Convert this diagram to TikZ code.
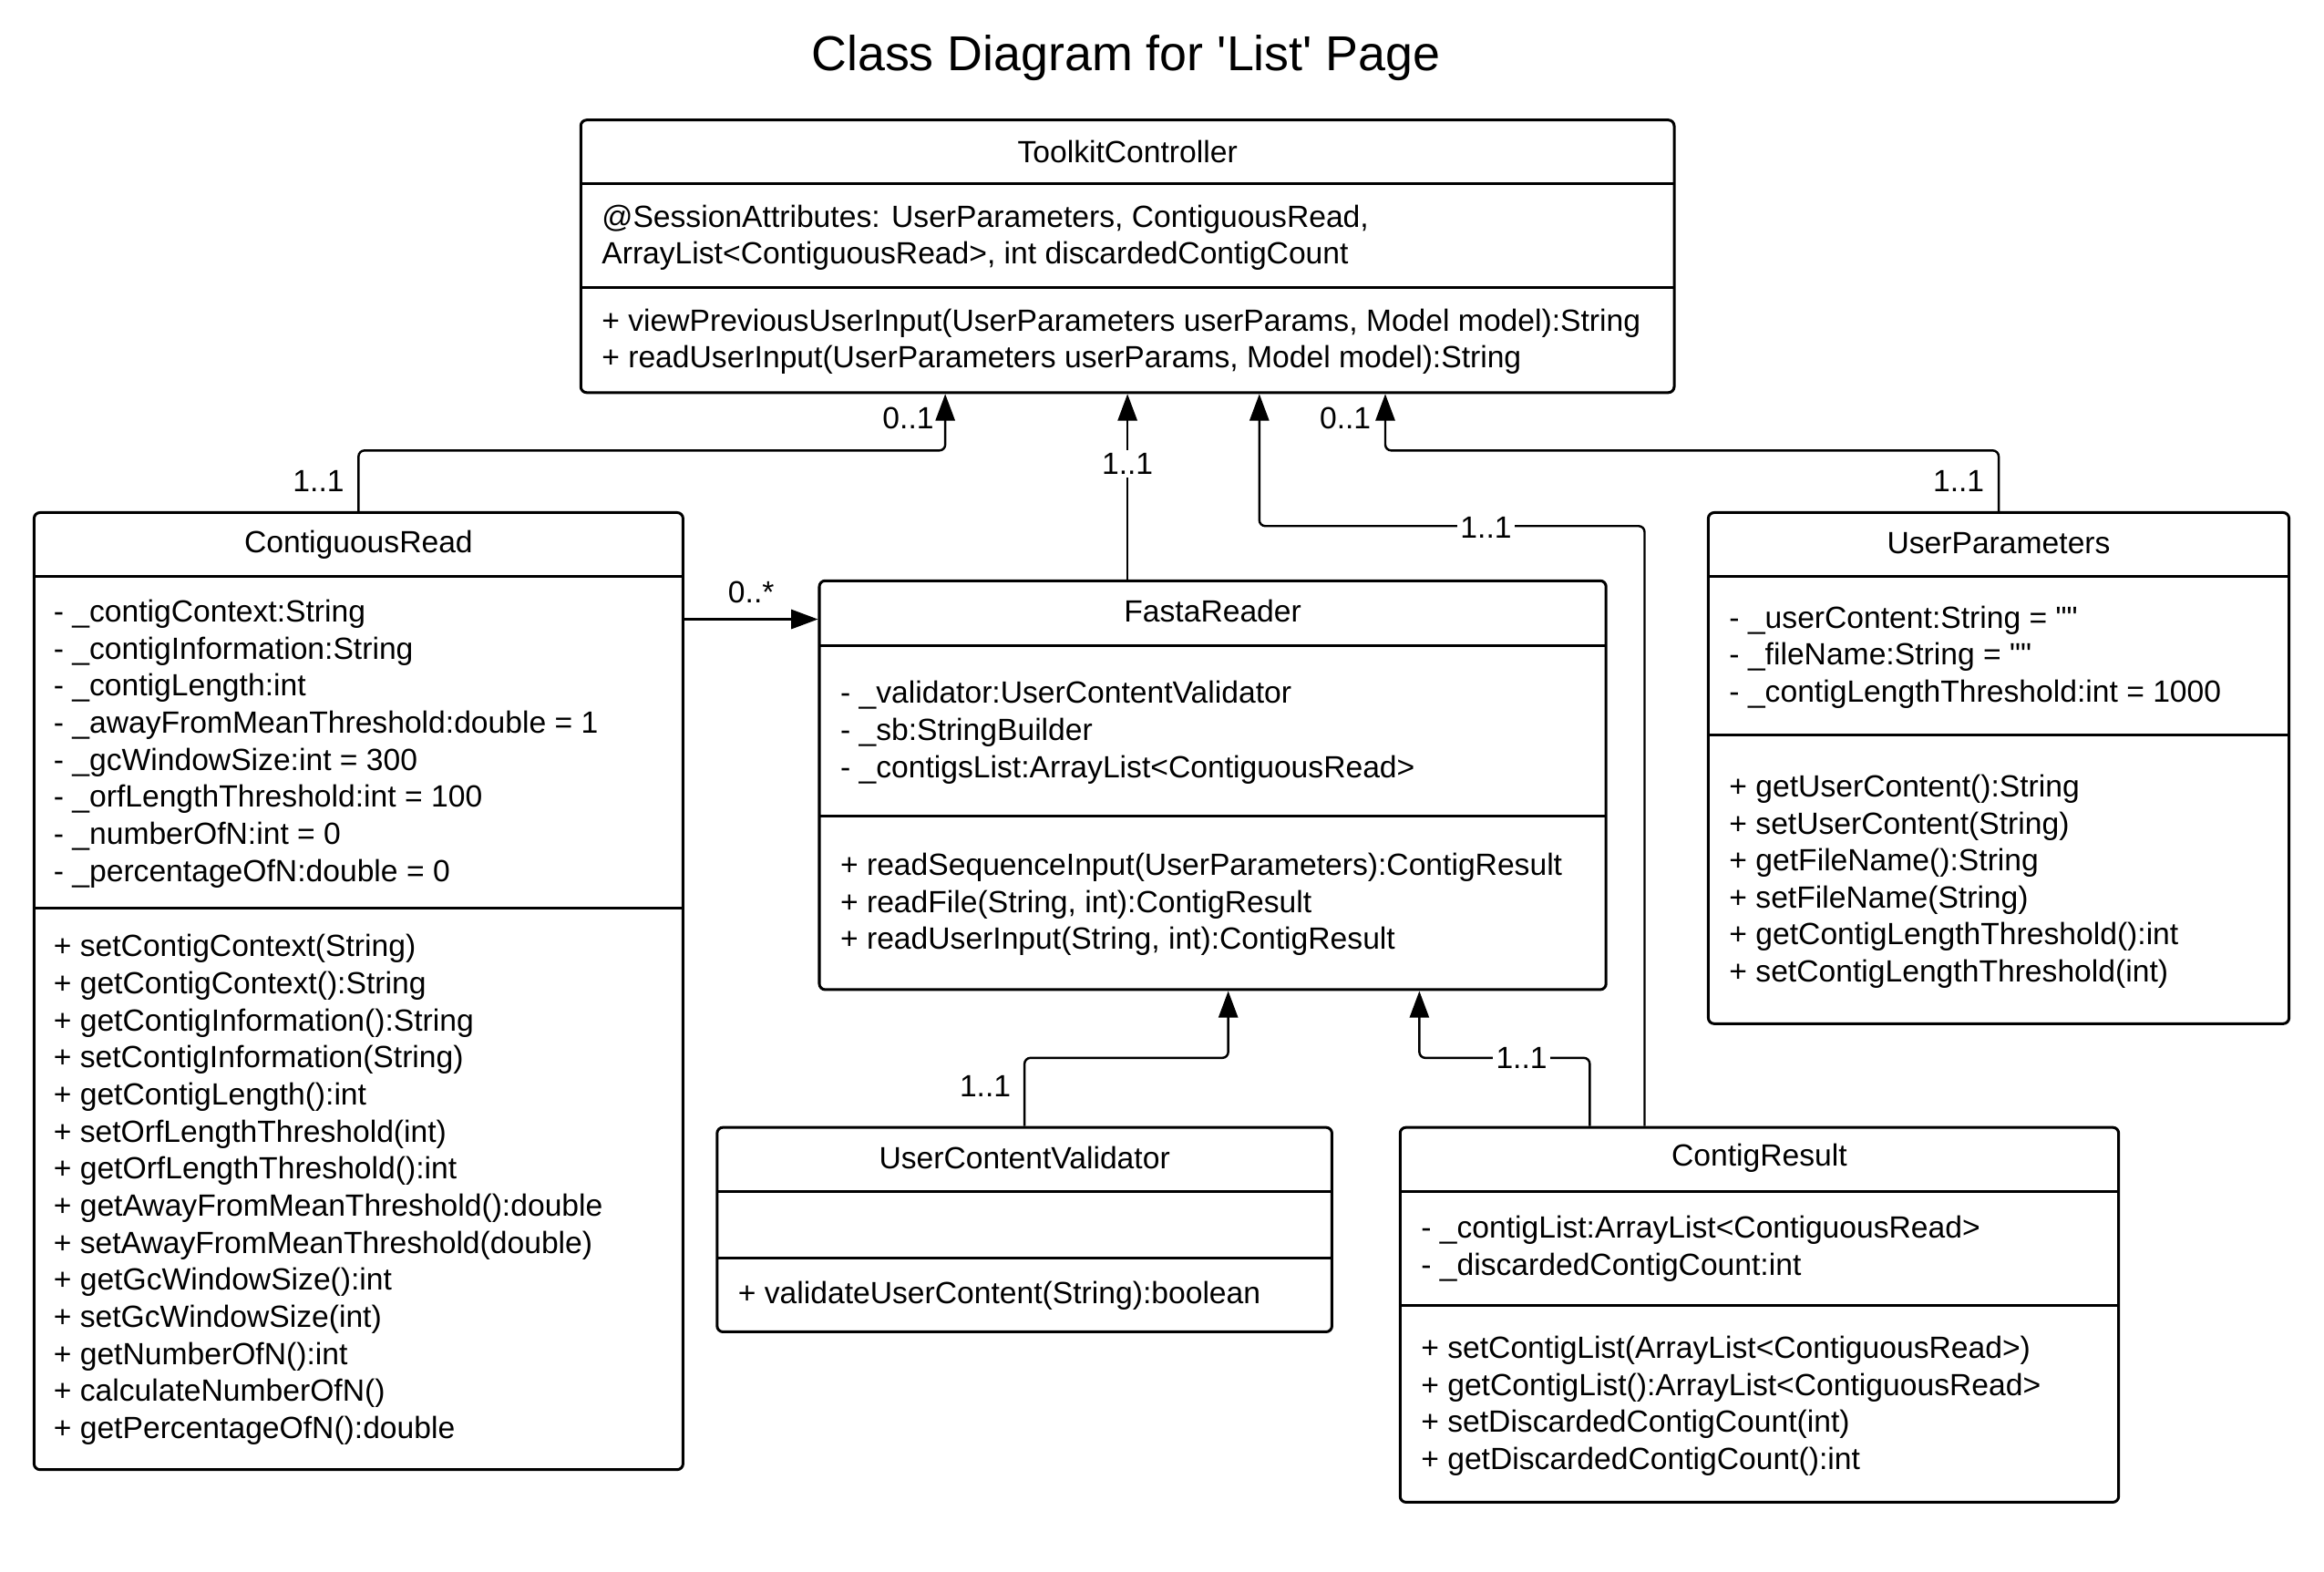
\documentclass[tikz,border=0pt]{standalone}
\usepackage{fontspec}
\newfontfamily\umlfont{Liberation Sans}
\usetikzlibrary{arrows.meta}

\begin{document}
\begin{tikzpicture}[x=1pt, y=-1pt, font=\umlfont\fontsize{20.7}{25}\selectfont,
    classbox/.style={draw, line width=1.85pt, rounded corners=4pt, inner sep=0pt},
    divider/.style={line width=1.85pt},
    member/.style={anchor=west, align=left, inner sep=0pt},
    assoc/.style={line width=1.5pt, rounded corners=4pt, -{Triangle[width=13pt, length=18pt]}},
    mult/.style={inner sep=2pt},
    onlinemult/.style={inner sep=2pt, fill=white}]

\useasboundingbox (0,0) rectangle (1568.6,1060.8);

\node[font=\umlfont\fontsize{33.1}{40}\selectfont] (title) at (760,39) {Class Diagram for 'List' Page};

% ToolkitController
\node[classbox, minimum width=738pt, minimum height=184pt] (toolkit) at (761,173) {};
\draw[divider] (392,124) -- (1130,124);
\draw[divider] (392,194) -- (1130,194);
\node (toolkitname) at (761,102.5) {ToolkitController};
\node[member] (toolkitattr) at (406,160.5) {@SessionAttributes: UserParameters, ContiguousRead,\\ArrayList<ContiguousRead>, int discardedContigCount};
\node[member] (toolkitops) at (406,230.5) {+ viewPreviousUserInput(UserParameters userParams, Model model):String\\+ readUserInput(UserParameters userParams, Model model):String};

% ContiguousRead
\node[classbox, minimum width=438pt, minimum height=646pt] (cread) at (242,669) {};
\draw[divider] (23,389) -- (461,389);
\draw[divider] (23,613) -- (461,613);
\node (creadname) at (242,367.5) {ContiguousRead};
\node[member] (creadattr) at (36,502) {- \_contigContext:String\\- \_contigInformation:String\\- \_contigLength:int\\- \_awayFromMeanThreshold:double = 1\\- \_gcWindowSize:int = 300\\- \_orfLengthThreshold:int = 100\\- \_numberOfN:int = 0\\- \_percentageOfN:double = 0};
\node[member] (creadops) at (36,803) {+ setContigContext(String)\\+ getContigContext():String\\+ getContigInformation():String\\+ setContigInformation(String)\\+ getContigLength():int\\+ setOrfLengthThreshold(int)\\+ getOrfLengthThreshold():int\\+ getAwayFromMeanThreshold():double\\+ setAwayFromMeanThreshold(double)\\+ getGcWindowSize():int\\+ setGcWindowSize(int)\\+ getNumberOfN():int\\+ calculateNumberOfN()\\+ getPercentageOfN():double};

% FastaReader
\node[classbox, minimum width=531pt, minimum height=276pt] (fasta) at (818.5,530) {};
\draw[divider] (553,436) -- (1084,436);
\draw[divider] (553,551) -- (1084,551);
\node (fastaname) at (818.5,412.5) {FastaReader};
\node[member] (fastaattr) at (567,494.5) {- \_validator:UserContentValidator\\- \_sb:StringBuilder\\- \_contigsList:ArrayList<ContiguousRead>};
\node[member] (fastaops) at (567,610.5) {+ readSequenceInput(UserParameters):ContigResult\\+ readFile(String, int):ContigResult\\+ readUserInput(String, int):ContigResult};

% UserParameters
\node[classbox, minimum width=392pt, minimum height=345pt] (uparams) at (1349,518.5) {};
\draw[divider] (1153,389) -- (1545,389);
\draw[divider] (1153,496) -- (1545,496);
\node (uparamsname) at (1349,366.5) {UserParameters};
\node[member] (uparamsattr) at (1167,443.5) {- \_userContent:String = ""\\- \_fileName:String = ""\\- \_contigLengthThreshold:int = 1000};
\node[member] (uparamsops) at (1167,595) {+ getUserContent():String\\+ setUserContent(String)\\+ getFileName():String\\+ setFileName(String)\\+ getContigLengthThreshold():int\\+ setContigLengthThreshold(int)};

% UserContentValidator
\node[classbox, minimum width=415pt, minimum height=138pt] (ucv) at (691.5,830) {};
\draw[divider] (484,804) -- (899,804);
\draw[divider] (484,849) -- (899,849);
\node (ucvname) at (691.5,781.5) {UserContentValidator};
\node[member] (ucvops) at (498,874.5) {+ validateUserContent(String):boolean};

% ContigResult
\node[classbox, minimum width=485pt, minimum height=253pt] (cresult) at (1187.5,887.5) {};
\draw[divider] (945,804) -- (1430,804);
\draw[divider] (945,881) -- (1430,881);
\node (cresultname) at (1187.5,781.5) {ContigResult};
\node[member] (cresultattr) at (959,843) {- \_contigList:ArrayList<ContiguousRead>\\- \_discardedContigCount:int};
\node[member] (cresultops) at (959,949) {+ setContigList(ArrayList<ContiguousRead>)\\+ getContigList():ArrayList<ContiguousRead>\\+ setDiscardedContigCount(int)\\+ getDiscardedContigCount():int};

% associations
\draw[assoc] (cread.north) -- ++(0,-41) -| ([xshift=-123pt]toolkit.south);
\draw[assoc] (fasta.north -| toolkit.south) -- (toolkit.south);
\draw[assoc] ([xshift=-77.5pt]cresult.north) -- ++(0,-405) -| ([xshift=89pt]toolkit.south);
\draw[assoc] (uparams.north) -- ++(0,-41) -| ([xshift=174pt]toolkit.south);
\draw[assoc] (cread.east |- 0,418) -- (fasta.west |- 0,418);
\draw[assoc] (ucv.north) -- ++(0,-46) -| ([xshift=10.5pt]fasta.south);
\draw[assoc] ([xshift=-114.5pt]cresult.north) -- ++(0,-46) -| ([xshift=139.5pt]fasta.south);

\node[mult] (m1) at (215,325) {1..1};
\node[mult] (m2) at (613,282) {0..1};
\node[onlinemult] (m3) at (761,313) {1..1};
\node[onlinemult] (m4) at (1003,356) {1..1};
\node[mult] (m5) at (908,282) {0..1};
\node[mult] (m6) at (1322,325) {1..1};
\node[mult] (m7) at (507,400) {0..*};
\node[mult] (m8) at (665,733) {1..1};
\node[onlinemult] (m9) at (1027,714) {1..1};

\end{tikzpicture}
\end{document}
